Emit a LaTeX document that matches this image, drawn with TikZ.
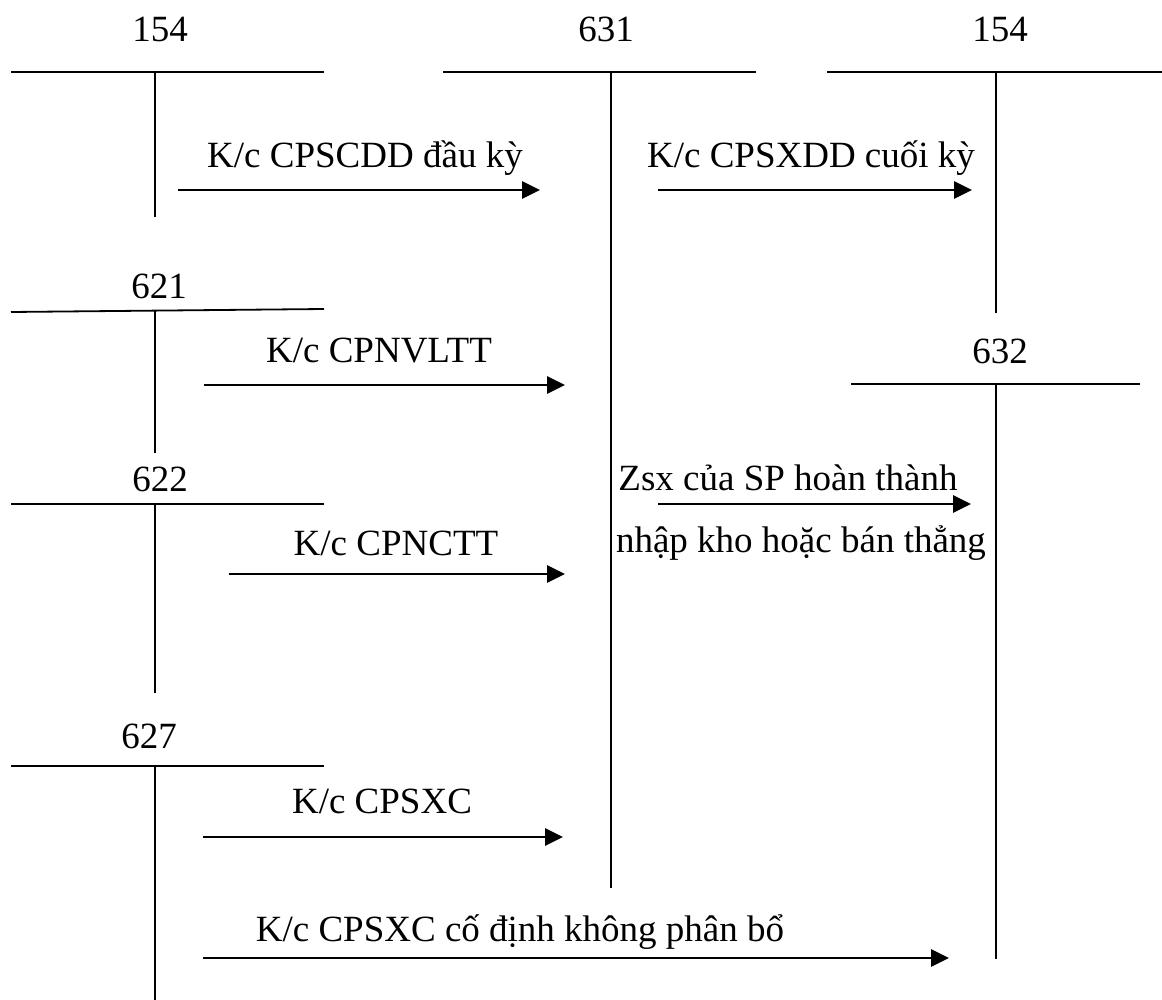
\documentclass[tikz,border=0pt]{standalone}
\usepackage{fontspec}
\setmainfont{Liberation Serif}
\usetikzlibrary{arrows.meta}
\begin{document}
\begin{tikzpicture}[x=1pt,y=-1pt,
  tline/.style={line width=1.8pt},
  flow/.style={line width=2.8pt,-{Triangle[length=18pt,width=17pt]}},
  lbl/.style={anchor=base,inner sep=0pt,font=\fontsize{37}{44}\selectfont}]
\useasboundingbox (0,0) rectangle (1162,1000);

% ---- T accounts ----
% 154 (left)
\node[lbl] (t154a) at (160,42) {154};
\draw[tline] (11,72) -- (324,72);
\draw[tline] (155,72) -- (155,217);
% 631
\node[lbl] (t631) at (606,42) {631};
\draw[tline] (443,72) -- (756,72);
\draw[tline] (611,72) -- (611,888);
% 154 (right)
\node[lbl] (t154b) at (1000,42) {154};
\draw[tline] (827,72) -- (1162,72);
\draw[tline] (996,72) -- (996,313);
% 621
\node[lbl] (t621) at (159,299) {621};
\draw[tline] (11,312) -- (324,309);
\draw[tline] (155,310) -- (155,453);
% 622
\node[lbl] (t622) at (160,491) {622};
\draw[tline] (11,504) -- (324,504);
\draw[tline] (155,504) -- (155,693);
% 627
\node[lbl] (t627) at (149,748) {627};
\draw[tline] (11,766) -- (324,766);
\draw[tline] (155,766) -- (155,1000);
% 632
\node[lbl] (t632) at (1000,363) {632};
\draw[tline] (851,384) -- (1140,384);
\draw[tline] (996,384) -- (996,959);

% ---- arrow end points ----
\coordinate (a1s) at (178,190); \coordinate (a1e) at (540,190);
\coordinate (a2s) at (658,190); \coordinate (a2e) at (972,190);
\coordinate (a3s) at (204,385); \coordinate (a3e) at (565,385);
\coordinate (a4s) at (229,574); \coordinate (a4e) at (565,574);
\coordinate (a5s) at (658,504); \coordinate (a5e) at (971,504);
\coordinate (a6s) at (203,837); \coordinate (a6e) at (563,837);
\coordinate (a7s) at (203,958); \coordinate (a7e) at (949,958);

\draw[flow] (a1s) -- (a1e);
\draw[flow] (a2s) -- (a2e);
\draw[flow] (a3s) -- (a3e);
\draw[flow] (a4s) -- (a4e);
\draw[flow] (a5s) -- (a5e);
\draw[flow] (a6s) -- (a6e);
\draw[flow] (a7s) -- (a7e);

% ---- labels ----
\node[lbl] (l1) at (365,168) {K/c CPSCDD đầu kỳ};
\node[lbl] (l2) at (811,168) {K/c CPSXDD cuối kỳ};
\node[lbl] (l3) at (379,362) {K/c CPNVLTT};
\node[lbl] (l4) at (396,555) {K/c CPNCTT};
\node[lbl] (l5a) at (788,490) {Zsx của SP hoàn thành};
\node[lbl] (l5b) at (801,552) {nhập kho hoặc bán thẳng};
\node[lbl] (l6) at (382,813) {K/c CPSXC};
\node[lbl] (l7) at (520,941) {K/c CPSXC cố định không phân bổ};
\end{tikzpicture}
\end{document}
